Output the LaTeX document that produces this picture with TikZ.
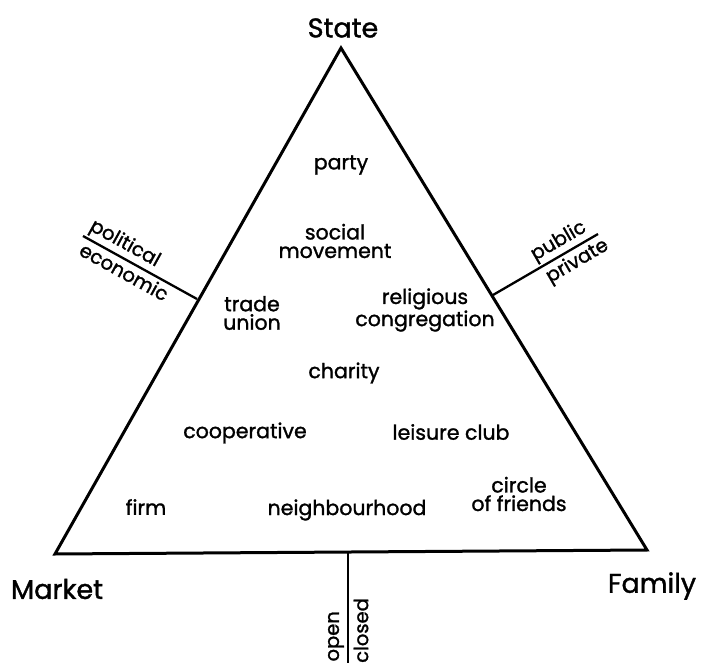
\documentclass[tikz,border=0pt]{standalone}
\usepackage{fontspec}
\setmainfont{Poppins}
\newfontfamily\popb{Poppins}[FakeBold=1.3]
\usetikzlibrary{calc}
\begin{document}
\begin{tikzpicture}[x=1pt,y=-1pt,
  lbl/.style={inner sep=0pt, font=\popb\fontsize{20.5}{18.5}\selectfont, align=center},
  big/.style={inner sep=0pt, font=\popb\fontsize{27}{30}\selectfont},
  side/.style={inner sep=0pt, font=\popb\fontsize{19.5}{19}\selectfont},
  edge/.style={line width=3pt, line join=miter},
  tick/.style={line width=2.3pt}]
\useasboundingbox (0,0) rectangle (702,663);
\clip (0,0) rectangle (702,663);
% corners
\coordinate (S) at (341,48);
\coordinate (M) at (55,554);
\coordinate (F) at (647,550);
\draw[edge] (S) -- (M) -- (F) -- cycle;
% ticks
\coordinate (lt1) at (197,299);
\coordinate (lt2) at (83,236);
\coordinate (rt1) at (493,295);
\coordinate (rt2) at (598,234);
\coordinate (bt1) at (348,552);
\coordinate (bt2) at (348,663);
\draw[tick] (lt1) -- (lt2);
\draw[tick] (rt1) -- (rt2);
\draw[tick] (bt1) -- (bt2);
\path (lt2) -- (lt1)
  node[side, sloped, above=3pt, pos=0.31] (pol) {political}
  node[side, sloped, below=3.5pt, pos=0.41] (eco) {economic};
\path (rt1) -- (rt2)
  node[side, sloped, above=3pt, pos=0.69] (pub) {public}
  node[side, sloped, below=3.5pt, pos=0.74] (pri) {private};
% corner labels
\node[big] (state) at (343,28) {State};
\node[big] (market) at (57,589) {Market};
\node[big] (family) at (652,586) {Family};
% bottom labels
\node[side, rotate=90, anchor=east] (open) at (336,611) {open};
\node[side, rotate=90, anchor=east] (closed) at (361,598) {closed};
% interior
\node[lbl] (party) at (341,165) {party};
\node[lbl] (social) at (335,241) {social\\movement};
\node[lbl] (trade) at (252,313) {trade\\union};
\node[lbl] (relig) at (425,310) {religious\\congregation};
\node[lbl] (charity) at (344,373) {charity};
\node[lbl] (coop) at (245,433) {cooperative};
\node[lbl] (leisure) at (451,432) {leisure club};
\node[lbl] (firm) at (146,507) {firm};
\node[lbl] (neigh) at (347,510) {neighbourhood};
\node[lbl] (circle) at (519,494) {circle\\of friends};
\end{tikzpicture}
\end{document}
